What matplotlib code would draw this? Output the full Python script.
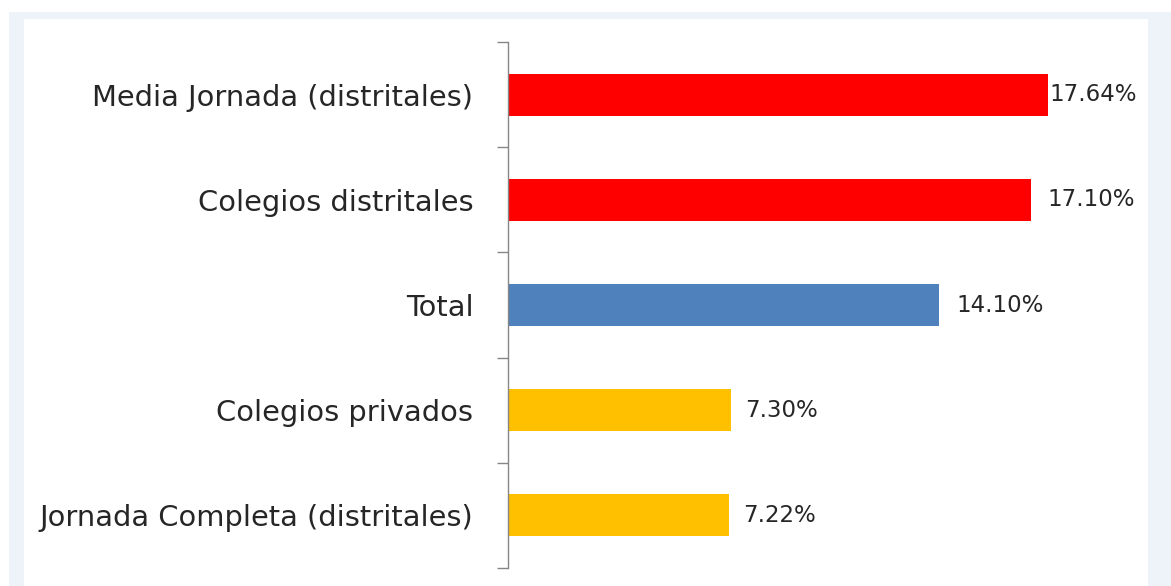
import matplotlib
matplotlib.use('Agg')
import matplotlib.pyplot as plt
from matplotlib.patches import Rectangle

categories = [
    "Media Jornada (distritales)",
    "Colegios distritales",
    "Total",
    "Colegios privados",
    "Jornada Completa (distritales)",
]
values = [17.64, 17.10, 14.10, 7.30, 7.22]
value_labels = ["17.64%", "17.10%", "14.10%", "7.30%", "7.22%"]
bar_colors = ["#FF0000", "#FF0000", "#4F81BD", "#FFC000", "#FFC000"]

W, H = 1171, 586
fig = plt.figure(figsize=(W / 100, H / 100), dpi=100, facecolor="white")

# marco azul claro y panel blanco
fig.patches.append(Rectangle((9 / W, 0), (W - 9) / W, (H - 12) / H,
                             transform=fig.transFigure, facecolor="#EEF2F9",
                             edgecolor="none", zorder=-2))
fig.patches.append(Rectangle((24 / W, 0), (1148 - 24) / W, (H - 19) / H,
                             transform=fig.transFigure, facecolor="white",
                             edgecolor="none", zorder=-1))

ax = fig.add_axes([508 / W, (H - 568) / H, 612 / W, 526 / H])
ax.set_facecolor("none")
ax.set_zorder(1)

pos = list(range(len(categories)))
ax.barh(pos, values, height=0.4, color=bar_colors)
ax.set_ylim(len(categories) - 0.5, -0.5)
ax.set_xlim(0, 20)

pads = [1.5, 12, 12, 10, 10]
for p, v, lab, pad in zip(pos, values, value_labels, pads):
    ax.annotate(lab, (v, p), xytext=(pad, 0), textcoords="offset points",
                va="center", ha="left", fontsize=16.5, color="#262626",
                family="DejaVu Sans")

ax.set_yticks([i - 0.5 for i in range(len(categories) + 1)])
ax.set_yticklabels([])
ax.set_yticks(pos, minor=True)
ax.set_yticklabels(categories, minor=True, fontsize=20.8, color="#262626",
                   family="DejaVu Sans")
ax.tick_params(axis="y", which="major", length=8, width=1, color="#868686")
ax.tick_params(axis="y", which="minor", length=0, pad=25)
ax.set_xticks([])

for s in ["top", "right", "bottom"]:
    ax.spines[s].set_visible(False)
ax.spines["left"].set_color("#868686")
ax.spines["left"].set_linewidth(1)

fig.savefig("out.png", dpi=100, facecolor="white")
